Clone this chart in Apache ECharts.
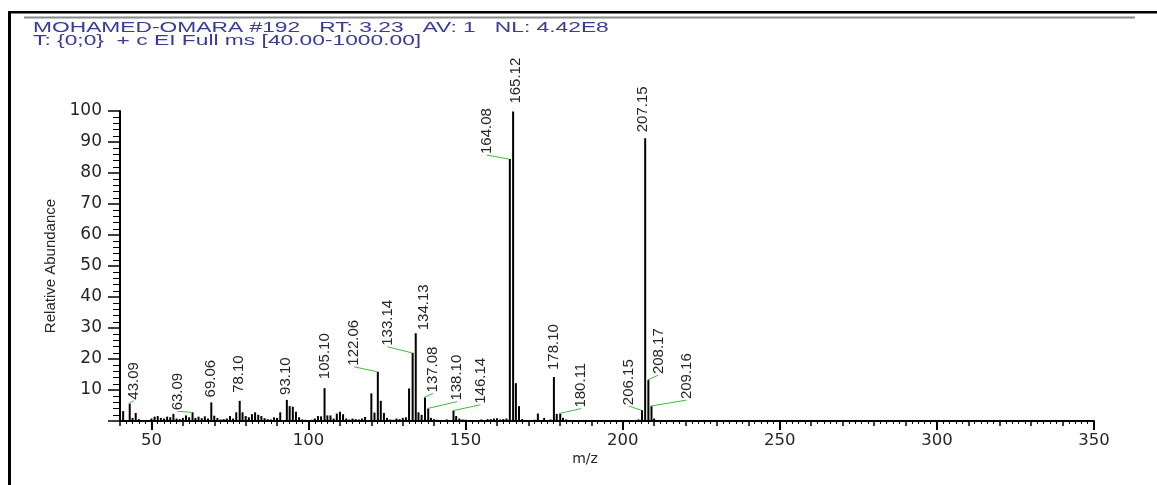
<!DOCTYPE html>
<html>
<head>
<meta charset="utf-8">
<title>Mass spectrum #192</title>
<script src="https://cdn.jsdelivr.net/npm/echarts@6/dist/echarts.min.js"></script>
<style>
  html, body { margin: 0; padding: 0; background: #fff; }
  #chart { width: 1157px; height: 485px; }
</style>
</head>
<body>
<div id="chart"></div>
<script>
// spectrum sticks: m/z and relative abundance (%)
var mz = [
  40, 41, 43.09, 44, 45, 46,
  50, 51, 52, 53, 54, 55, 56, 57, 58, 59, 60, 61, 62, 63.09, 64, 65, 66, 67, 68, 69.06,
  70, 71, 72, 73, 74, 75, 76, 77, 78.10, 79, 80, 81, 82, 83, 84, 85, 86, 87, 88, 89,
  90, 91, 93.10, 94, 95, 96, 97, 98, 99, 101, 102, 103, 104, 105.10, 106, 107, 108, 109,
  110, 111, 112, 113, 114, 115, 116, 117, 118, 120, 121, 122.06, 123, 124, 125, 126, 127,
  128, 129, 130, 131, 132, 133.14, 134.13, 135, 136, 137.08, 138.10, 139, 140, 141,
  144, 146.14, 147, 148, 149, 150, 155, 157, 158, 159, 160, 161, 162, 163,
  164.08, 165.12, 166, 167, 168, 172, 173, 175, 177, 178.10, 179, 180.11, 181, 182,
  205, 206.15, 207.15, 208.17, 209.16, 210
];
var abundance = [
  1.8, 3.2, 5.6, 1.0, 2.6, 0.6,
  0.8, 1.4, 1.6, 1.0, 0.8, 1.4, 1.2, 2.3, 0.8, 0.6, 1.0, 1.8, 1.2, 2.8, 1.0, 1.4, 0.9, 1.5, 0.8, 6.0,
  1.7, 1.0, 0.5, 0.6, 0.8, 1.6, 0.8, 2.8, 6.5, 2.8, 1.6, 1.2, 2.2, 2.8, 2.0, 1.6, 0.9, 0.6, 0.5, 1.2,
  1.0, 2.8, 6.8, 4.8, 4.6, 3.0, 1.2, 0.5, 0.4, 0.4, 0.8, 1.6, 1.5, 10.6, 1.8, 1.8, 0.8, 2.4,
  3.0, 2.2, 0.8, 0.5, 0.8, 0.6, 0.5, 0.8, 1.3, 8.9, 2.7, 15.9, 6.5, 2.6, 1.0, 0.5, 0.4,
  0.8, 0.6, 1.0, 1.2, 10.5, 22.0, 28.3, 2.8, 2.0, 7.6, 4.0, 1.0, 0.6, 0.4,
  0.5, 3.3, 1.6, 0.8, 0.5, 0.4, 0.5, 0.6, 0.6, 0.8, 0.9, 0.5, 0.6, 0.8,
  84.5, 99.8, 12.2, 4.8, 0.6, 0.4, 2.4, 1.0, 0.5, 14.2, 2.3, 2.4, 1.0, 0.5,
  0.5, 3.5, 91.2, 13.2, 4.8, 0.8
];

// annotated peaks
var labeledPeaks = [
  43.09, 63.09, 69.06, 78.10, 93.10, 105.10, 122.06, 133.14, 134.13, 137.08,
  138.10, 146.14, 164.08, 165.12, 178.10, 180.11, 206.15, 207.15, 208.17, 209.16
];

// x axis labelled ticks
var xTicks = [50, 100, 150, 200, 250, 300, 350];

// label placement relative to the peak top: [dx px, dy px, draw leader]
var labelShift = [
  [4, -4, 1], [-15, -2, 1], [0, -5, 0], [-1, -8, 0], [-1, -5, 0], [0, -9, 0],
  [-24, -6, 1], [-25, -7, 1], [8, -3, 0], [8, -5, 1],
  [29, -8, 1], [27, -7, 1], [-23, -5, 1], [3, -8, 0], [0, -7, 0], [21, -6, 1],
  [-13, -5, 1], [-2, -6, 0], [10, -6, 1], [35, -7, 1]
];

var TXT = '#262626';
var sticks = mz.map(function (m, i) { return [m, abundance[i]]; });
var labels = labeledPeaks.map(function (m) { return [m, abundance[mz.indexOf(m)]]; });

var chart = echarts.init(document.getElementById('chart'));

chart.setOption({
  backgroundColor: '#fff',
  animation: false,
  grid: { left: 120, right: 63, top: 111, bottom: 64, outerBoundsMode: 'none' },
  graphic: [
    { type: 'rect', shape: { x: 8, y: 11, width: 1149, height: 2.5 }, style: { fill: '#000' } },
    { type: 'rect', shape: { x: 24, y: 16.5, width: 1111, height: 2 }, style: { fill: '#8a8a8a' } },
    { type: 'rect', shape: { x: 8, y: 11, width: 3, height: 474 }, style: { fill: '#000' } },
    { type: 'text', x: 33, y: 19.5, scaleX: 1.47,
      style: { text: 'MOHAMED-OMARA #192   RT: 3.23   AV: 1   NL: 4.42E8',
        font: '15.5px "Liberation Sans"', fill: '#3a3a9c', verticalAlign: 'top' } },
    { type: 'text', x: 33, y: 32.5, scaleX: 1.47,
      style: { text: 'T: {0;0}  + c EI Full ms [40.00-1000.00]',
        font: '15.5px "Liberation Sans"', fill: '#3a3a9c', verticalAlign: 'top' } }
  ],
  xAxis: [
    {
      type: 'value', min: 40, max: 350, interval: 10, position: 'bottom',
      axisLine: { show: true, onZero: false, lineStyle: { color: '#000', width: 2 } },
      axisTick: { show: true, length: 5, lineStyle: { color: '#000', width: 1.5 } },
      minorTick: { show: true, splitNumber: 5, length: 3, lineStyle: { color: '#000', width: 1 } },
      axisLabel: { show: false },
      splitLine: { show: false },
      name: 'm/z', nameLocation: 'middle', nameGap: 31,
      nameTextStyle: { fontFamily: 'DejaVu Sans', fontSize: 14, color: TXT, padding: [0, 44, 0, 0] }
    },
    {
      type: 'value', min: 40, max: 350, position: 'bottom',
      axisLine: { show: false },
      axisTick: { show: true, length: 9, customValues: xTicks, lineStyle: { color: '#000', width: 2 } },
      axisLabel: { customValues: xTicks, margin: 11, fontFamily: 'DejaVu Sans', fontSize: 16.5, color: TXT },
      splitLine: { show: false }
    }
  ],
  yAxis: {
    type: 'value', min: 0, max: 100, interval: 10,
    axisLine: { show: true, lineStyle: { color: '#000', width: 2 } },
    axisTick: { show: true, length: 12, lineStyle: { color: '#000', width: 1.5 } },
    minorTick: { show: true, splitNumber: 5, length: 7, lineStyle: { color: '#000', width: 1 } },
    axisLabel: { showMinLabel: false, margin: 18, fontFamily: 'DejaVu Sans', fontSize: 17, color: TXT },
    splitLine: { show: false },
    name: 'Relative Abundance', nameLocation: 'middle', nameGap: 60, nameRotate: 90,
    nameTextStyle: { fontFamily: 'Liberation Sans', fontSize: 15, color: TXT }
  },
  series: [
    {
      type: 'custom', name: 'spectrum', silent: true, clip: false,
      data: sticks,
      renderItem: function (params, api) {
        var base = api.coord([api.value(0), 0]);
        var top = api.coord([api.value(0), api.value(1)]);
        return {
          type: 'line',
          shape: { x1: base[0], y1: base[1], x2: top[0], y2: top[1] },
          style: { stroke: '#000', lineWidth: 2 }
        };
      }
    },
    {
      type: 'custom', name: 'labels', silent: true, clip: false, z: 5,
      data: labels,
      renderItem: function (params, api) {
        var i = params.dataIndex;
        var top = api.coord([api.value(0), api.value(1)]);
        var s = labelShift[i];
        var lx = top[0] + s[0], ly = top[1] + s[1];
        var kids = [];
        if (s[2]) {
          kids.push({
            type: 'polyline',
            shape: { points: [[top[0] - 1, top[1]], [lx, ly + 1]] },
            style: { stroke: '#3dbb3d', lineWidth: 1, fill: null }
          });
        }
        kids.push({
          type: 'text', x: lx, y: ly, rotation: Math.PI / 2,
          style: {
            text: labeledPeaks[i].toFixed(2), x: 0, y: 0,
            align: 'left', verticalAlign: 'middle',
            font: '15px "Liberation Sans"', fill: TXT
          }
        });
        return { type: 'group', children: kids };
      }
    }
  ]
});
</script>
</body>
</html>
